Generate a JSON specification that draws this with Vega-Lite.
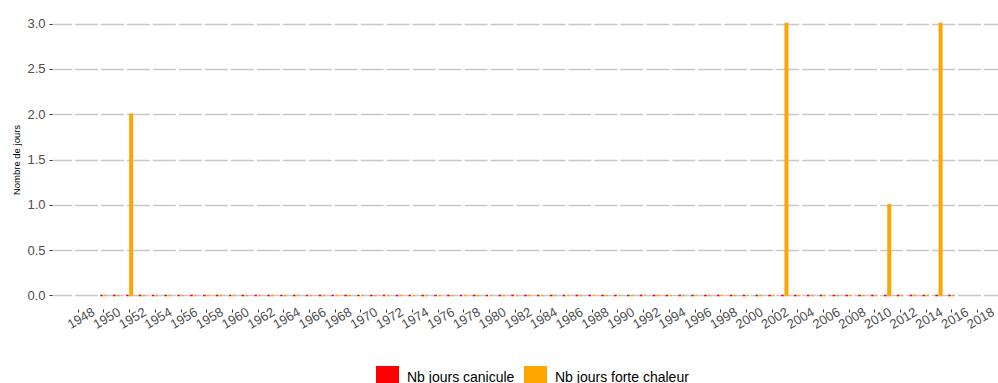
{
  "$schema": "https://vega.github.io/schema/vega-lite/v6.json",
  "autosize": {"type": "none"},
  "width": 946,
  "height": 299,
  "padding": {"left": 52, "top": 10, "right": 0, "bottom": 74},
  "background": "white",
  "config": {
    "view": {"stroke": null},
    "font": "Liberation Sans"
  },
  "data": {
    "values": [
      {"annee": 1950, "canicule": 0, "chaleur": 0},
      {"annee": 1951, "canicule": 0, "chaleur": 0},
      {"annee": 1952, "canicule": 0, "chaleur": 2},
      {"annee": 1953, "canicule": 0, "chaleur": 0},
      {"annee": 1954, "canicule": 0, "chaleur": 0},
      {"annee": 1955, "canicule": 0, "chaleur": 0},
      {"annee": 1956, "canicule": 0, "chaleur": 0},
      {"annee": 1957, "canicule": 0, "chaleur": 0},
      {"annee": 1958, "canicule": 0, "chaleur": 0},
      {"annee": 1959, "canicule": 0, "chaleur": 0},
      {"annee": 1960, "canicule": 0, "chaleur": 0},
      {"annee": 1961, "canicule": 0, "chaleur": 0},
      {"annee": 1962, "canicule": 0, "chaleur": 0},
      {"annee": 1963, "canicule": 0, "chaleur": 0},
      {"annee": 1964, "canicule": 0, "chaleur": 0},
      {"annee": 1965, "canicule": 0, "chaleur": 0},
      {"annee": 1966, "canicule": 0, "chaleur": 0},
      {"annee": 1967, "canicule": 0, "chaleur": 0},
      {"annee": 1968, "canicule": 0, "chaleur": 0},
      {"annee": 1969, "canicule": 0, "chaleur": 0},
      {"annee": 1970, "canicule": 0, "chaleur": 0},
      {"annee": 1971, "canicule": 0, "chaleur": 0},
      {"annee": 1972, "canicule": 0, "chaleur": 0},
      {"annee": 1973, "canicule": 0, "chaleur": 0},
      {"annee": 1974, "canicule": 0, "chaleur": 0},
      {"annee": 1975, "canicule": 0, "chaleur": 0},
      {"annee": 1976, "canicule": 0, "chaleur": 0},
      {"annee": 1977, "canicule": 0, "chaleur": 0},
      {"annee": 1978, "canicule": 0, "chaleur": 0},
      {"annee": 1979, "canicule": 0, "chaleur": 0},
      {"annee": 1980, "canicule": 0, "chaleur": 0},
      {"annee": 1981, "canicule": 0, "chaleur": 0},
      {"annee": 1982, "canicule": 0, "chaleur": 0},
      {"annee": 1983, "canicule": 0, "chaleur": 0},
      {"annee": 1984, "canicule": 0, "chaleur": 0},
      {"annee": 1985, "canicule": 0, "chaleur": 0},
      {"annee": 1986, "canicule": 0, "chaleur": 0},
      {"annee": 1987, "canicule": 0, "chaleur": 0},
      {"annee": 1988, "canicule": 0, "chaleur": 0},
      {"annee": 1989, "canicule": 0, "chaleur": 0},
      {"annee": 1990, "canicule": 0, "chaleur": 0},
      {"annee": 1991, "canicule": 0, "chaleur": 0},
      {"annee": 1992, "canicule": 0, "chaleur": 0},
      {"annee": 1993, "canicule": 0, "chaleur": 0},
      {"annee": 1994, "canicule": 0, "chaleur": 0},
      {"annee": 1995, "canicule": 0, "chaleur": 0},
      {"annee": 1996, "canicule": 0, "chaleur": 0},
      {"annee": 1997, "canicule": 0, "chaleur": 0},
      {"annee": 1998, "canicule": 0, "chaleur": 0},
      {"annee": 1999, "canicule": 0, "chaleur": 0},
      {"annee": 2000, "canicule": 0, "chaleur": 0},
      {"annee": 2001, "canicule": 0, "chaleur": 0},
      {"annee": 2002, "canicule": 0, "chaleur": 0},
      {"annee": 2003, "canicule": 0, "chaleur": 3},
      {"annee": 2004, "canicule": 0, "chaleur": 0},
      {"annee": 2005, "canicule": 0, "chaleur": 0},
      {"annee": 2006, "canicule": 0, "chaleur": 0},
      {"annee": 2007, "canicule": 0, "chaleur": 0},
      {"annee": 2008, "canicule": 0, "chaleur": 0},
      {"annee": 2009, "canicule": 0, "chaleur": 0},
      {"annee": 2010, "canicule": 0, "chaleur": 0},
      {"annee": 2011, "canicule": 0, "chaleur": 1},
      {"annee": 2012, "canicule": 0, "chaleur": 0},
      {"annee": 2013, "canicule": 0, "chaleur": 0},
      {"annee": 2014, "canicule": 0, "chaleur": 0},
      {"annee": 2015, "canicule": 0, "chaleur": 3},
      {"annee": 2016, "canicule": 0, "chaleur": 0}
    ]
  },
  "encoding": {
    "x": {
      "field": "annee",
      "type": "quantitative",
      "title": null,
      "scale": {"domain": [1946.383, 2019.231], "nice": false, "zero": false},
      "axis": {
        "values": [1948,1950,1952,1954,1956,1958,1960,1962,1964,1966,1968,1970,1972,1974,1976,1978,1980,1982,1984,1986,1988,1990,1992,1994,1996,1998,2000,2002,2004,2006,2008,2010,2012,2014,2016,2018],
        "format": "d",
        "labelAngle": -30,
        "labelAlign": "center",
        "labelBaseline": "middle",
        "labelPadding": 6,
        "labelOffset": 3,
        "labelFontSize": 13,
        "labelColor": "#4D4D4D",
        "labelOverlap": false,
        "labelFlush": false,
        "domain": false,
        "ticks": true,
        "tickSize": 3,
        "tickColor": "#333333",
        "tickWidth": 1,
        "grid": false
      }
    }
  },
  "layer": [
    {
      "mark": {"type": "bar", "width": 2.5, "xOffset": -2, "stroke": "#FF0000", "strokeWidth": 1.5},
      "encoding": {
        "y": {
          "field": "canicule",
          "type": "quantitative",
          "title": "Nombre de jours",
          "scale": {"domain": [-0.15, 3.15], "nice": false, "zero": false},
          "axis": {
            "values": [0, 0.5, 1, 1.5, 2, 2.5, 3],
            "format": ".1f",
            "labelFontSize": 13,
            "labelColor": "#4D4D4D",
            "labelPadding": 4,
            "domain": false,
            "tickSize": 3,
            "tickColor": "#333333",
            "tickWidth": 1,
            "grid": true,
            "gridColor": "#C8C8C8",
            "gridWidth": 1.5,
            "gridDash": [22.971, 3],
            "gridDashOffset": 3.471,
            "titleFontSize": 9.5,
            "titleFontWeight": "normal",
            "titleColor": "black",
            "titleX": -36,
            "titleY": 149.5,
            "titleAngle": -90,
            "titleAlign": "center",
            "titleBaseline": "middle"
          }
        },
        "color": {
          "datum": "Nb jours canicule",
          "scale": {"domain": ["Nb jours canicule", "Nb jours forte chaleur"], "range": ["#FF0000", "#FFA500"]},
          "legend": {
            "title": null,
            "orient": "none",
            "legendX": 324,
            "legendY": 356,
            "direction": "horizontal",
            "symbolType": "square",
            "symbolSize": 529,
            "symbolStrokeWidth": 0,
            "labelFontSize": 14,
            "labelColor": "black",
            "labelOffset": 8,
            "columnPadding": 9,
            "padding": 0
          }
        }
      }
    },
    {
      "mark": {"type": "bar", "width": 2.5, "xOffset": 2, "stroke": "#FFA500", "strokeWidth": 1.5},
      "encoding": {
        "y": {"field": "chaleur", "type": "quantitative"},
        "color": {"datum": "Nb jours forte chaleur"}
      }
    }
  ]
}
